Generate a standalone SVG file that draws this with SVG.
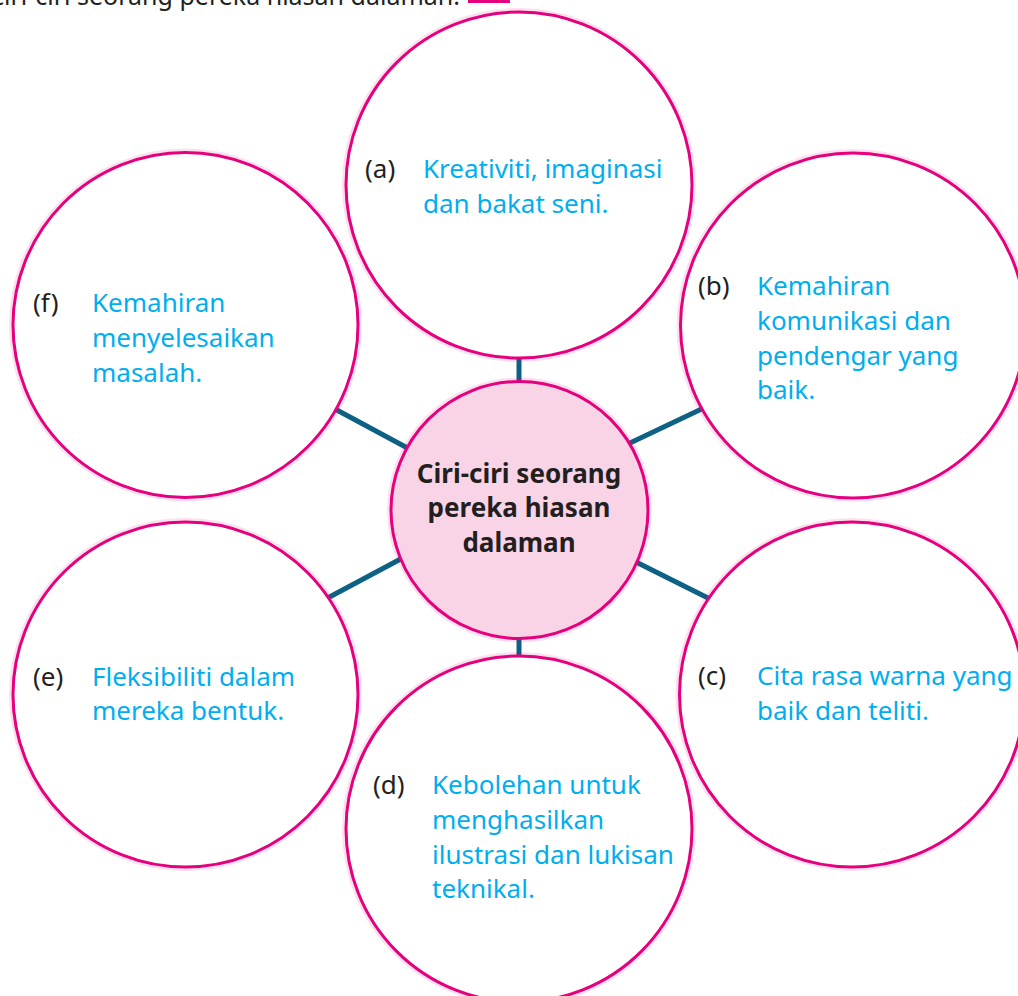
<svg xmlns="http://www.w3.org/2000/svg" width="1018" height="996" viewBox="0 0 1018 996">
<style>
.halo{fill:none;stroke:#e5007d;stroke-opacity:0.12;stroke-width:8}
.ring{fill:#ffffff;stroke:#e5007d;stroke-width:3}
.hub{fill:#f9d4e6;stroke:#e5007d;stroke-width:3}
.lbl{font-family:"Noto Sans","Open Sans",sans-serif;font-size:26px;fill:#231f20}
.txt{font-family:"Noto Sans","Open Sans",sans-serif;font-size:26px;fill:#00aeef}
.hubtxt{font-family:"Noto Sans","Open Sans",sans-serif;font-size:26px;font-weight:bold;fill:#231f20;text-anchor:middle}
.head{font-family:"Noto Sans","Open Sans",sans-serif;font-size:25px;fill:#231f20;text-anchor:end}
.conn{stroke:#0c6184;stroke-width:5;fill:none}
</style>
<rect width="1018" height="996" fill="#ffffff"/>
<g id="heading">
<text class="head" x="460" y="5">Nyatakan ciri-ciri seorang pereka hiasan dalaman.</text>
<rect x="468" y="0" width="42" height="3" fill="#e5007d"/>
</g>
<g id="connectors">
<line class="conn" x1="519" y1="350" x2="519" y2="392"/>
<line class="conn" x1="519" y1="628" x2="519" y2="666"/>
<line class="conn" x1="620" y1="447.8" x2="710" y2="405"/>
<line class="conn" x1="628" y1="558" x2="715" y2="601.5"/>
<line class="conn" x1="328" y1="405.3" x2="414" y2="451.5"/>
<line class="conn" x1="322" y1="601" x2="410" y2="554"/>
</g>
<g id="node-a">
<circle class="halo" cx="519" cy="185" r="173"/>
<circle class="ring" cx="519" cy="185" r="173"/>
<text class="lbl" x="365" y="178">(a)</text>
<text class="txt" x="423" y="178">Kreativiti, imaginasi</text>
<text class="txt" x="423" y="213">dan bakat seni.</text>
</g>
<g id="node-b">
<circle class="halo" cx="853" cy="325.5" r="172.5"/>
<circle class="ring" cx="853" cy="325.5" r="172.5"/>
<text class="lbl" x="698" y="295">(b)</text>
<text class="txt" x="757" y="295">Kemahiran</text>
<text class="txt" x="757" y="330">komunikasi dan</text>
<text class="txt" x="757" y="365">pendengar yang</text>
<text class="txt" x="757" y="399">baik.</text>
</g>
<g id="node-c">
<circle class="halo" cx="852" cy="694.5" r="172.5"/>
<circle class="ring" cx="852" cy="694.5" r="172.5"/>
<text class="lbl" x="698" y="685">(c)</text>
<text class="txt" x="757" y="685">Cita rasa warna yang</text>
<text class="txt" x="757" y="720">baik dan teliti.</text>
</g>
<g id="node-d">
<circle class="halo" cx="519" cy="829" r="173"/>
<circle class="ring" cx="519" cy="829" r="173"/>
<text class="lbl" x="373" y="794">(d)</text>
<text class="txt" x="432" y="794">Kebolehan untuk</text>
<text class="txt" x="432" y="829">menghasilkan</text>
<text class="txt" x="432" y="864">ilustrasi dan lukisan</text>
<text class="txt" x="432" y="898">teknikal.</text>
</g>
<g id="node-e">
<circle class="halo" cx="185.5" cy="694.5" r="172.5"/>
<circle class="ring" cx="185.5" cy="694.5" r="172.5"/>
<text class="lbl" x="33" y="686">(e)</text>
<text class="txt" x="92" y="686">Fleksibiliti dalam</text>
<text class="txt" x="92" y="720">mereka bentuk.</text>
</g>
<g id="node-f">
<circle class="halo" cx="185.5" cy="325" r="172.5"/>
<circle class="ring" cx="185.5" cy="325" r="172.5"/>
<text class="lbl" x="33" y="312">(f)</text>
<text class="txt" x="92" y="312">Kemahiran</text>
<text class="txt" x="92" y="347">menyelesaikan</text>
<text class="txt" x="92" y="382">masalah.</text>
</g>
<g id="node-center">
<circle class="halo" cx="519.5" cy="510" r="128.5"/>
<circle class="hub" cx="519.5" cy="510" r="128.5"/>
<text class="hubtxt" x="519" y="483">Ciri-ciri seorang</text>
<text class="hubtxt" x="519" y="517">pereka hiasan</text>
<text class="hubtxt" x="519" y="552">dalaman</text>
</g>
</svg>
